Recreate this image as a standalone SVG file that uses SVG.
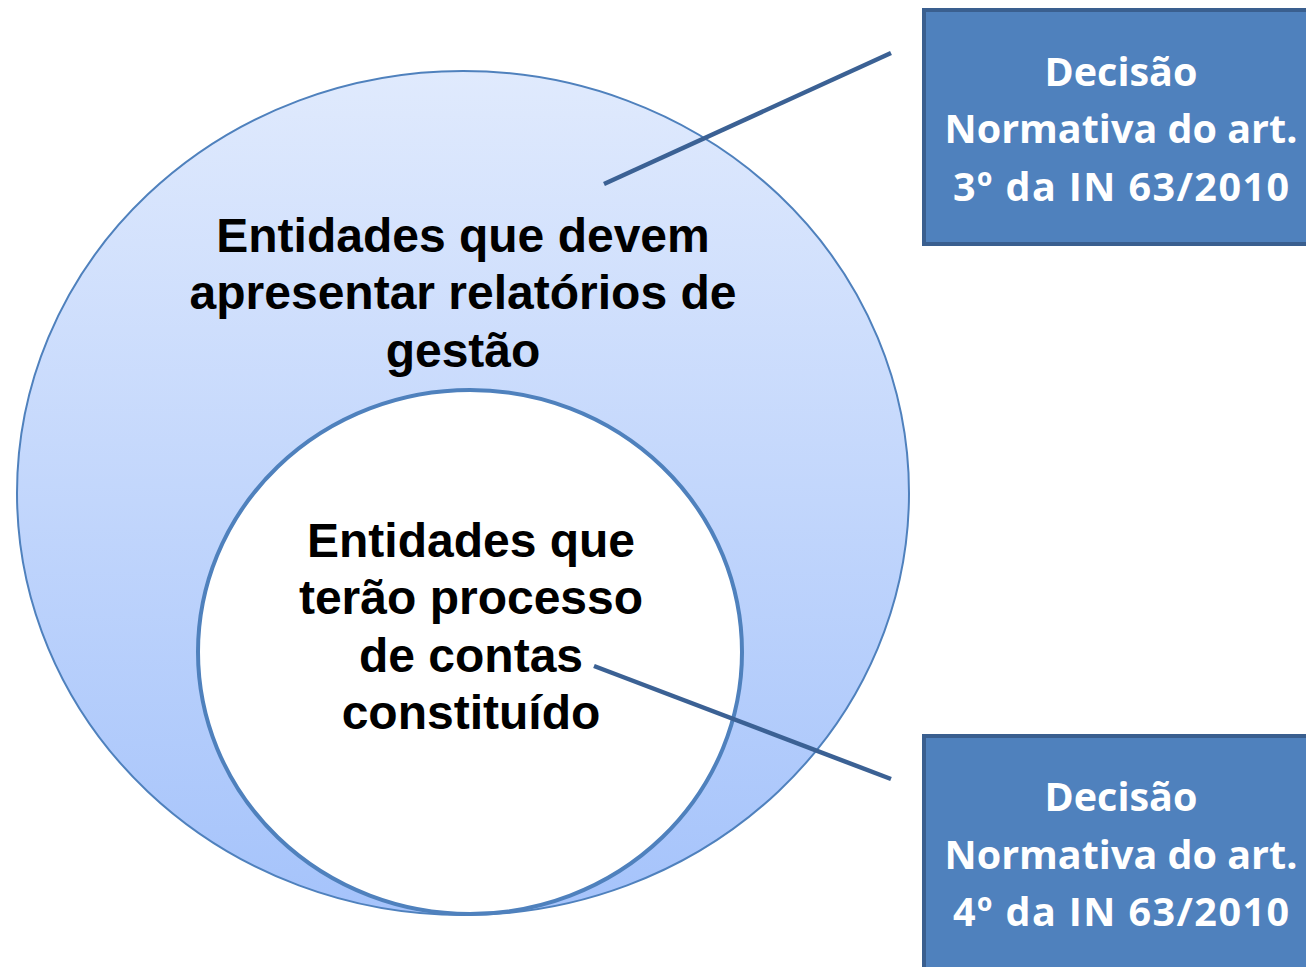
<svg xmlns="http://www.w3.org/2000/svg" width="1306" height="967" viewBox="0 0 1306 967">
<defs>
<linearGradient id="g" x1="0" y1="0" x2="0" y2="1">
<stop offset="0" stop-color="#e0eafd"/>
<stop offset="1" stop-color="#a5c3fb"/>
</linearGradient>
<style>
.t{font-family:"Liberation Sans",Arial,sans-serif;font-weight:bold;font-size:48px;fill:#000;text-anchor:middle}
.b{font-family:"Open Sans","Noto Sans",sans-serif;font-weight:bold;font-size:39.5px;fill:#fff;text-anchor:middle}
.box{fill:#4f81bd;stroke:#3a5f8f;stroke-width:4}
.con{stroke:#3b6194;stroke-width:4.5;fill:none}
</style>
</defs>
<rect width="1306" height="967" fill="#fff"/>
<g id="outer">
<ellipse cx="463" cy="493" rx="446" ry="422" fill="url(#g)" stroke="#4f81bd" stroke-width="2"/>
<text class="t" x="463" y="252">Entidades que devem</text>
<text class="t" x="463" y="309">apresentar relatórios de</text>
<text class="t" x="463" y="367">gestão</text>
</g>
<g id="inner">
<ellipse cx="470" cy="652" rx="272" ry="262" fill="#fff" stroke="#4f81bd" stroke-width="4"/>
<text class="t" x="471" y="557">Entidades que</text>
<text class="t" x="471" y="614">terão processo</text>
<text class="t" x="471" y="672">de contas</text>
<text class="t" x="471" y="729">constituído</text>
</g>
<g id="box1">
<rect class="box" x="924" y="10" width="390" height="234"/>
<text class="b" x="1121" y="86">Decisão</text>
<text class="b" x="1121" y="143">Normativa do art.</text>
<text class="b" x="1121" y="201" textLength="336" lengthAdjust="spacing">3º da IN 63/2010</text>
</g>
<g id="box2">
<rect class="box" x="924" y="736" width="390" height="240"/>
<text class="b" x="1121" y="811">Decisão</text>
<text class="b" x="1121" y="869">Normativa do art.</text>
<text class="b" x="1121" y="926" textLength="336" lengthAdjust="spacing">4º da IN 63/2010</text>
</g>
<g id="connectors">
<line class="con" x1="604" y1="184" x2="891" y2="53"/>
<line class="con" x1="594" y1="666" x2="891" y2="779"/>
</g>
</svg>
